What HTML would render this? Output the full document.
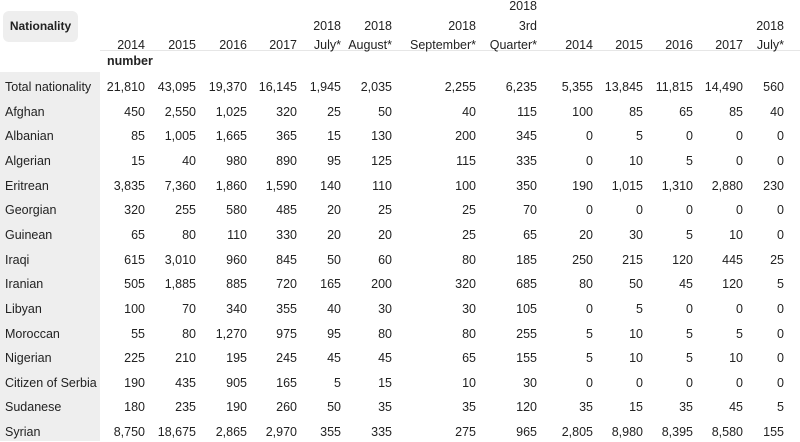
<!DOCTYPE html>
<html><head><meta charset="utf-8"><style>
body{margin:0;width:800px;height:441px;background:#fff;overflow:hidden;font-family:"Liberation Sans",sans-serif;font-size:12.5px;color:#222;position:relative}
.gray{position:absolute;left:0;top:72px;width:100px;height:369px;background:#eeeeee}
.btn{position:absolute;left:3px;top:11px;width:75px;height:31px;background:#eeeeee;border-radius:6px;font-weight:bold;font-size:12px;line-height:31px;text-align:center}
.line{position:absolute;left:100px;top:50px;width:700px;height:1px;background:#e6e6e6}
.r{position:absolute;left:0;width:800px;height:20px;line-height:20px}
.r span{position:absolute;top:0;text-align:right;width:90px;white-space:nowrap}
.r span.n{left:5px;text-align:left;width:100px}
.h{position:absolute;text-align:right;width:90px;line-height:14px;white-space:nowrap}
</style></head><body>
<div class="gray"></div>
<div class="btn">Nationality</div>
<div class="line"></div>
<div id="hdr"></div>
<div style="position:absolute;left:107px;top:53px;font-weight:bold;line-height:16px">number</div>
<div id="rows"></div>
<script>
var R=[145,196,247,297,341,392,476,537,593,643,693,743,784];
var H=[["2014"],["2015"],["2016"],["2017"],["2018","July*"],["2018","August*"],["2018","September*"],["2018","3rd","Quarter*"],["2014"],["2015"],["2016"],["2017"],["2018","July*"]];
var h="";
H.forEach(function(a,i){a.forEach(function(t,j){var top=38-(a.length-1-j)*19.5;h+='<div class="h" style="left:'+(R[i]-90)+'px;top:'+top+'px">'+t+'</div>';});});
document.getElementById("hdr").innerHTML=h;
var D=[["Total nationality","21,810","43,095","19,370","16,145","1,945","2,035","2,255","6,235","5,355","13,845","11,815","14,490","560"],
["Afghan","450","2,550","1,025","320","25","50","40","115","100","85","65","85","40"],
["Albanian","85","1,005","1,665","365","15","130","200","345","0","5","0","0","0"],
["Algerian","15","40","980","890","95","125","115","335","0","10","5","0","0"],
["Eritrean","3,835","7,360","1,860","1,590","140","110","100","350","190","1,015","1,310","2,880","230"],
["Georgian","320","255","580","485","20","25","25","70","0","0","0","0","0"],
["Guinean","65","80","110","330","20","20","25","65","20","30","5","10","0"],
["Iraqi","615","3,010","960","845","50","60","80","185","250","215","120","445","25"],
["Iranian","505","1,885","885","720","165","200","320","685","80","50","45","120","5"],
["Libyan","100","70","340","355","40","30","30","105","0","5","0","0","0"],
["Moroccan","55","80","1,270","975","95","80","80","255","5","10","5","5","0"],
["Nigerian","225","210","195","245","45","45","65","155","5","10","5","10","0"],
["Citizen of Serbia","190","435","905","165","5","15","10","30","0","0","0","0","0"],
["Sudanese","180","235","190","260","50","35","35","120","35","15","35","45","5"],
["Syrian","8,750","18,675","2,865","2,970","355","335","275","965","2,805","8,980","8,395","8,580","155"]];
var s="";
D.forEach(function(row,i){var top=87+24.65*i-10;s+='<div class="r" style="top:'+top+'px"><span class="n">'+row[0]+'</span>';
for(var k=1;k<row.length;k++)s+='<span style="left:'+(R[k-1]-90)+'px">'+row[k]+'</span>';s+='</div>';});
document.getElementById("rows").innerHTML=s;
</script>
</body></html>
